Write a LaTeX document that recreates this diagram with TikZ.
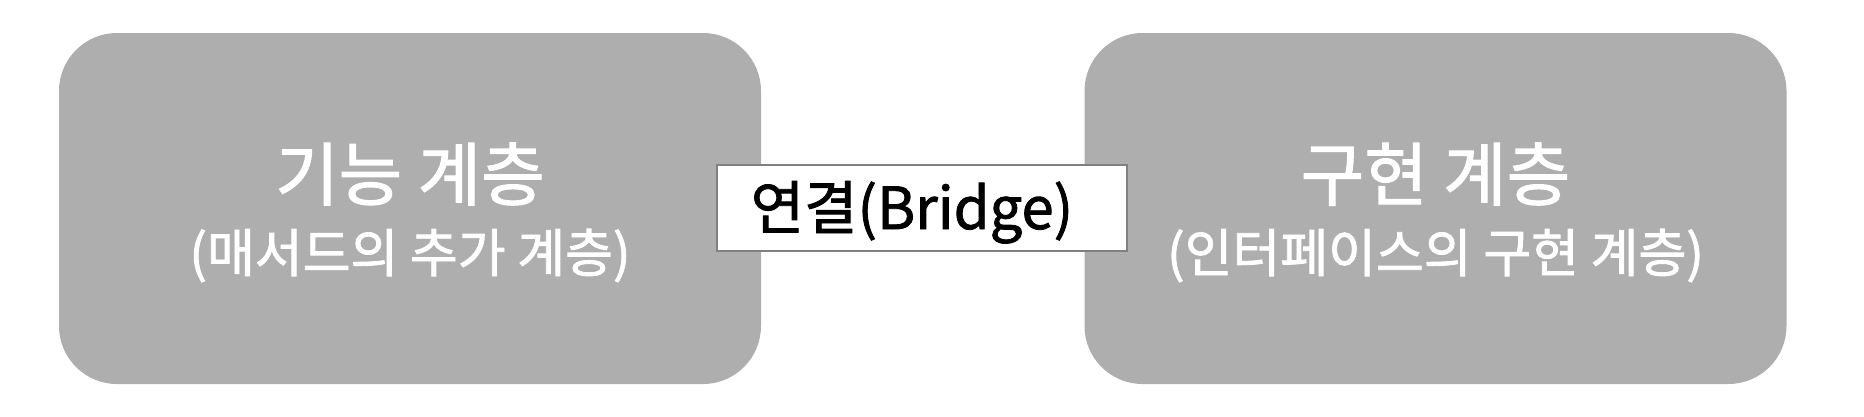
\documentclass[tikz,border=0pt]{standalone}
\usepackage{fontspec}
\setmainfont{Noto Sans CJK KR}
\newfontfamily\whitefont{Noto Sans CJK KR}[FakeBold=1.6]
\newfontfamily\bridgefont{Noto Sans CJK KR}[FakeBold=1.4]
\definecolor{boxgray}{RGB}{174,174,174}
\definecolor{edgegray}{RGB}{128,128,128}
\begin{document}
\begin{tikzpicture}[x=1pt,y=1pt,
  layerbox/.style={fill=boxgray, draw=none, rounded corners=58pt,
    minimum width=702pt, minimum height=351pt, inner sep=0pt},
  titletext/.style={text=white, anchor=base, inner sep=0pt,
    font=\fontsize{69}{69}\whitefont},
  subtext/.style={text=white, anchor=base, inner sep=0pt,
    font=\fontsize{52}{52}\whitefont},
  bridgebox/.style={fill=white, draw=edgegray, line width=2.5pt,
    minimum width=410pt, minimum height=86pt, inner sep=0pt}]
\useasboundingbox (0,0) rectangle (1864,-416);
\node[layerbox] (func) at (410,-208.5) {};
\node[layerbox] (impl) at (1435.5,-208.5) {};
\node[titletext] (funcT) at (410,-200) {기능 계층};
\node[subtext] (funcS) at (410,-272) {(매서드의 추가 계층)};
\node[titletext] (implT) at (1435.5,-200) {구현 계층};
\node[subtext] (implS) at (1435.5,-272) {(인터페이스의 구현 계층)};
\node[bridgebox] (bridge) at (922,-208) {};
\node[anchor=base, inner sep=0pt, font=\fontsize{58}{58}\bridgefont] (bridgeT) at (912,-229) {연결(Bridge)};
\end{tikzpicture}
\end{document}
